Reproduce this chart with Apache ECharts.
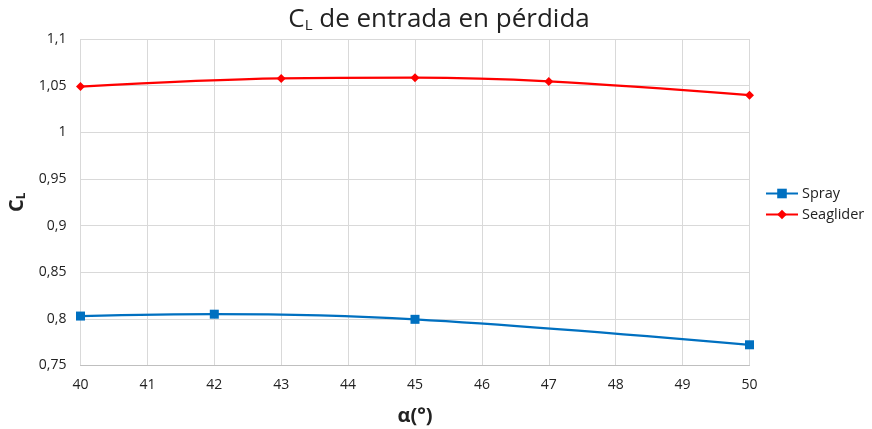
<!DOCTYPE html>
<html>
<head>
<meta charset="utf-8">
<script src="https://cdn.jsdelivr.net/npm/echarts@6/dist/echarts.min.js"></script>
<style>
  html, body { margin: 0; padding: 0; background: #fff; }
  #chart { width: 872px; height: 429px; }
</style>
</head>
<body>
<div id="chart"></div>
<script>
// Angle of attack samples (degrees) and stall-entry lift coefficients
const sprayAlpha = [40, 42, 45, 50];
const sprayCL = [0.803, 0.805, 0.7995, 0.7722];
const seagliderAlpha = [40, 43, 45, 47, 50];
const seagliderCL = [1.049, 1.0577, 1.0585, 1.0545, 1.0398];

const FONT = '"Open Sans", "Liberation Sans", sans-serif';

const pairs = (xs, ys) => xs.map((x, i) => [x, ys[i]]);

const chart = echarts.init(document.getElementById('chart'), null, { renderer: 'canvas' });

chart.setOption({
  animation: false,
  backgroundColor: '#fff',
  title: {
    text: '{m|C}{s|L}{m| de entrada en pérdida}',
    left: 434,
    top: 1,
    textAlign: 'center',
    textStyle: {
      fontWeight: 'normal',
      rich: {
        m: { fontFamily: FONT, fontSize: 26, fontWeight: 'normal', color: '#222' },
        s: { fontFamily: FONT, fontSize: 15, fontWeight: 'normal', color: '#222', verticalAlign: 'bottom', padding: [12, 0, 0, 0] }
      }
    }
  },
  grid: {
    left: 80.5, right: 122.5, top: 39, bottom: 63.5,
    containLabel: false,
    outerBoundsMode: 'none'
  },
  legend: {
    orient: 'vertical',
    left: 760,
    top: 181,
    itemGap: 6,
    itemWidth: 32,
    itemHeight: 12,
    textStyle: { fontFamily: FONT, fontSize: 14.5, color: '#222', padding: [0, 0, 0, -1] },
    data: ['Spray', 'Seaglider']
  },
  xAxis: {
    type: 'value',
    min: 40,
    max: 50,
    interval: 1,
    name: 'α(°)',
    nameLocation: 'middle',
    nameGap: 41,
    nameTextStyle: { fontFamily: FONT, fontSize: 20, fontWeight: 'bold', color: '#222' },
    axisLine: { lineStyle: { color: '#bfbfbf' } },
    axisTick: { show: false },
    axisLabel: { fontFamily: FONT, fontSize: 14, color: '#222', margin: 13 },
    splitLine: { show: true, lineStyle: { color: '#d9d9d9' } }
  },
  yAxis: {
    type: 'value',
    min: 0.75,
    max: 1.1,
    interval: 0.05,
    name: '{m|C}{s|L}',
    nameLocation: 'middle',
    nameRotate: 90,
    nameGap: 50,
    nameTextStyle: {
      rich: {
        m: { fontFamily: FONT, fontSize: 20, fontWeight: 'bold', color: '#222' },
        s: { fontFamily: FONT, fontSize: 12, fontWeight: 'bold', color: '#222', verticalAlign: 'bottom', padding: [10, 0, 0, 0] }
      }
    },
    axisLine: { show: false },
    axisTick: { show: false },
    axisLabel: {
      fontFamily: FONT, fontSize: 14, color: '#222', margin: 14,
      formatter: v => String(Math.round(v * 100) / 100).replace('.', ',')
    },
    splitLine: { show: true, lineStyle: { color: '#d9d9d9' } }
  },
  series: [
    {
      name: 'Spray',
      type: 'line',
      smooth: 0.35,
      data: pairs(sprayAlpha, sprayCL),
      symbol: 'rect',
      symbolSize: 9,
      color: '#0070c0',
      lineStyle: { width: 2.2, color: '#0070c0' },
      itemStyle: { color: '#0070c0' }
    },
    {
      name: 'Seaglider',
      type: 'line',
      smooth: 0.35,
      data: pairs(seagliderAlpha, seagliderCL),
      symbol: 'diamond',
      symbolSize: 9,
      color: '#ff0000',
      lineStyle: { width: 2.2, color: '#ff0000' },
      itemStyle: { color: '#ff0000' }
    }
  ]
});
</script>
</body>
</html>
